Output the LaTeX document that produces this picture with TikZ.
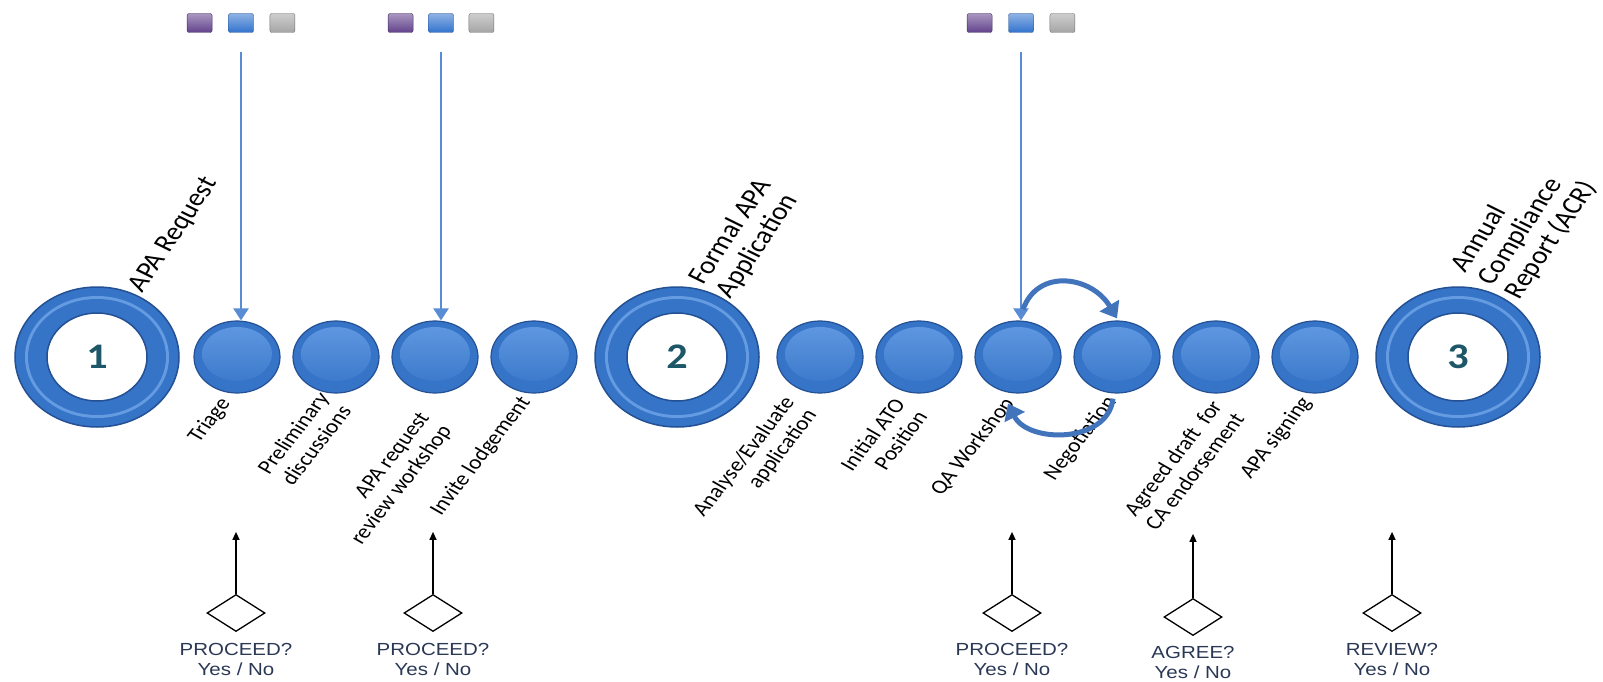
\documentclass[tikz,border=0pt]{standalone}
\usepackage{fontspec}
\usetikzlibrary{shapes.geometric,arrows.meta,positioning}
\newfontfamily\labelfont{Carlito}
\newfontfamily\numfont[FakeStretch=1.17]{Carlito}
\newfontfamily\answerfont[FakeStretch=1.17]{Liberation Sans}
\definecolor{rimblue}{RGB}{36,80,148}
\definecolor{bodyblue}{RGB}{54,116,200}
\definecolor{lightblue}{RGB}{100,155,225}
\definecolor{faceblue}{RGB}{98,154,226}
\definecolor{arrowblue}{RGB}{88,140,212}
\definecolor{loopblue}{RGB}{66,116,188}
\definecolor{numteal}{RGB}{30,88,104}
\definecolor{asktext}{RGB}{42,56,86}
\definecolor{mailpurple}{RGB}{98,66,140}
\definecolor{mailblue}{RGB}{50,115,205}
\definecolor{mailgrey}{RGB}{165,165,165}

\begin{document}
\begin{tikzpicture}[x=1pt,y=-1pt,node distance=99pt,
  stage node/.style={ellipse,draw=rimblue,line width=1.5pt,fill=bodyblue,
    minimum width=164pt,minimum height=140pt,inner sep=0pt,
    font=\numfont\bfseries\fontsize{36}{36}\selectfont,text=numteal,
    path picture={
      \fill[lightblue] (path picture bounding box.center) ellipse [x radius=72pt,y radius=61pt];
      \fill[bodyblue] (path picture bounding box.center) ellipse [x radius=69pt,y radius=58pt];
      \filldraw[fill=white,draw=rimblue,line width=1.5pt] (path picture bounding box.center) ellipse [x radius=50pt,y radius=44pt];
    }},
  step node/.style={ellipse,draw=rimblue,line width=1.2pt,fill=bodyblue,
    minimum width=86pt,minimum height=72pt,inner sep=0pt,
    path picture={
      \shade[top color=faceblue,bottom color=bodyblue] ([yshift=3pt]path picture bounding box.center) ellipse [x radius=35pt,y radius=27pt];
    }},
  step label/.style={font=\labelfont\fontsize{20}{23}\selectfont,align=right,
    anchor=north east,inner sep=1pt,xscale=1.17,rotate=56},
  phase label/.style={font=\labelfont\fontsize{25}{27}\selectfont,align=left,
    anchor=south west,inner sep=1pt,xscale=1.17,rotate=60},
  mail/.style={rectangle,rounded corners=2pt,minimum width=25pt,minimum height=19pt,
    inner sep=0pt,draw=#1!70!black,top color=#1!55!white,bottom color=#1},
  drop arrow/.style={draw=arrowblue,line width=2.5pt,-{Triangle[width=15pt,length=12pt]}},
  loop arrow/.style={draw=loopblue,line width=5pt,-{Triangle[width=22pt,length=15pt]}},
  decision/.style={diamond,draw=black,line width=1.3pt,fill=white,
    minimum width=58pt,minimum height=37pt,inner sep=0pt},
  ask arrow/.style={draw=black,line width=1.3pt,-{Triangle[width=7pt,length=8pt]}},
  answer/.style={font=\answerfont\fontsize{17.5}{19.5}\selectfont,text=asktext,
    align=center,inner sep=0pt}]

  \useasboundingbox (0,0) rectangle (1603,682);

  % main line of stages
  \node[stage node] (one) at (97,357) {1};
  \node[step node] (triage) [right of=one,node distance=140pt] {};
  \node[step node] (prelim) [right of=triage] {};
  \node[step node] (request) [right of=prelim] {};
  \node[step node] (invite) [right of=request] {};
  \node[stage node] (two) [right of=invite,node distance=143pt] {2};
  \node[step node] (analyse) [right of=two,node distance=143pt] {};
  \node[step node] (initial) [right of=analyse] {};
  \node[step node] (qa) [right of=initial] {};
  \node[step node] (nego) [right of=qa] {};
  \node[step node] (agreed) [right of=nego] {};
  \node[step node] (signing) [right of=agreed] {};
  \node[stage node] (three) [right of=signing,node distance=143pt] {3};

  % labels
  \node[phase label] at ([shift={(-8,-10)}]one.north east) {APA Request};
  \node[phase label] at ([shift={(0,-4)}]two.north east) {Formal APA\\Application};
  \node[phase label] at ([shift={(8,-3)}]three.north east) {Annual\\Compliance\\Report (ACR)};

  \node[step label] at ([shift={(11,11)}]triage.south west) {Triage};
  \node[step label] at ([shift={(11,6)}]prelim.south west) {Preliminary\\discussions};
  \node[step label] at ([shift={(13,26)}]request.south west) {APA request\\review workshop};
  \node[step label] at ([shift={(14,10)}]invite.south west) {Invite lodgement};
  \node[step label] at ([shift={(-8,10)}]analyse.south west) {Analyse/Evaluate\\application};
  \node[step label] at ([shift={(4,12)}]initial.south west) {Initial ATO\\Position};
  \node[step label] at ([shift={(14,11)}]qa.south west) {QA Workshop};
  \node[step label] at ([shift={(17,10)}]nego.south west) {Negotiation};
  \node[step label] at ([shift={(24,14)}]agreed.south west) {Agreed draft~ for\\CA endorsement};
  \node[step label] at ([shift={(14,10)}]signing.south west) {APA signing};

  % mail buttons
  \node[mail=mailblue] (mailA) at (241,23) {};
  \node[mail=mailpurple] (mailA1) [left=16pt of mailA] {};
  \node[mail=mailgrey] (mailA2) [right=16pt of mailA] {};
  \node[mail=mailblue] (mailB) at (441,23) {};
  \node[mail=mailpurple] (mailB1) [left=15pt of mailB] {};
  \node[mail=mailgrey] (mailB2) [right=15pt of mailB] {};
  \node[mail=mailblue] (mailC) at (1021,23) {};
  \node[mail=mailpurple] (mailC1) [left=16pt of mailC] {};
  \node[mail=mailgrey] (mailC2) [right=16pt of mailC] {};

  \draw[drop arrow] ([yshift=-19pt]mailA.south) -- (mailA |- triage.north);
  \draw[drop arrow] ([yshift=-19pt]mailB.south) -- (mailB |- request.north);
  \draw[drop arrow] ([yshift=-19pt]mailC.south) -- (mailC |- qa.north);

  % QA / negotiation cycle
  \draw[loop arrow] ([shift={(5,-11)}]qa.north) .. controls +(15,-42) and +(-25,-42) .. ([yshift=2pt]nego.north);
  \draw[loop arrow] ([shift={(-4,5)}]nego.south) .. controls +(-5,45) and +(20,40) .. ([shift={(-10,10)}]qa.south);

  % decisions
  \node[decision] (askA) at (236,613) {};
  \node[decision] (askB) at (433,613) {};
  \node[decision] (askC) at (1012,613) {};
  \node[decision] (askD) at (1193,617) {};
  \node[decision] (askE) at (1392,613) {};

  \node[answer,below=11pt of askA] {PROCEED?\\Yes / No};
  \node[answer,below=11pt of askB] {PROCEED?\\Yes / No};
  \node[answer,below=11pt of askC] {PROCEED?\\Yes / No};
  \node[answer,below=10pt of askD] {AGREE?\\Yes / No};
  \node[answer,below=11pt of askE] {REVIEW?\\Yes / No};

  \draw[ask arrow] (askA.north) -- ++(0,-62);
  \draw[ask arrow] (askB.north) -- ++(0,-62);
  \draw[ask arrow] (askC.north) -- ++(0,-62);
  \draw[ask arrow] (askD.north) -- ++(0,-64);
  \draw[ask arrow] (askE.north) -- ++(0,-62);

\end{tikzpicture}
\end{document}
